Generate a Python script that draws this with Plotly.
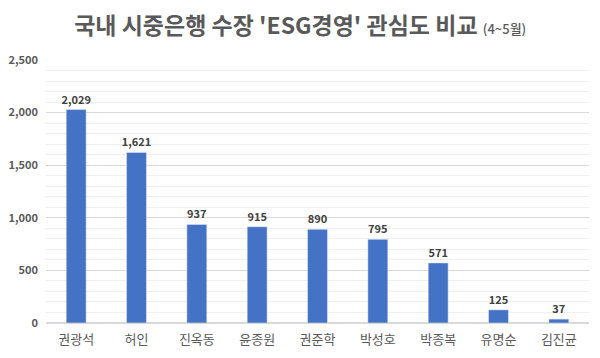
import plotly.graph_objects as go

names = ["권광석", "허인", "진옥동", "윤종원", "권준학", "박성호", "박종복", "유명순", "김진균"]
values = [2029, 1621, 937, 915, 890, 795, 571, 125, 37]
y_ticks = [0, 500, 1000, 1500, 2000, 2500]
y_tick_text = ["0", "500", "1,000", "1,500", "2,000", "2,500"]

FONT = "Noto Sans CJK KR"

fig = go.Figure(go.Bar(
    x=names, y=values, width=0.33,
    marker=dict(color="#4472C4"),
    text=[f"{v:,}" for v in values], textposition="outside",
    textfont=dict(family=FONT, size=11, color="#404040", weight="bold"),
    constraintext="none",
    cliponaxis=False,
))

fig.update_layout(
    width=600, height=358,
    margin=dict(l=38, r=19, t=52, b=43, autoexpand=False),
    paper_bgcolor="white", plot_bgcolor="white",
    showlegend=False,
    font=dict(family=FONT, color="#595959"),
    title=dict(
        text="국내 시중은행 수장 'ESG경영' 관심도 비교 <span style='font-size:13px;font-weight:500'>(4~5월)</span>",
        x=0.487, xanchor="center", y=0.95, yanchor="middle",
        font=dict(family=FONT, size=23, color="#595959", weight="bold"),
    ),
    xaxis=dict(
        showline=False, ticks="", automargin=False, ticklabelstandoff=7,
        tickfont=dict(family=FONT, size=13, color="#595959"),
    ),
    yaxis=dict(
        range=[0, 2500], tickvals=y_ticks, ticktext=y_tick_text,
        automargin=False,
        showgrid=True, gridcolor="#D9D9D9", gridwidth=1,
        zeroline=True, zerolinecolor="#D9D9D9",
        minor=dict(dtick=100, showgrid=True, gridcolor="#F0F0F0"),
        tickfont=dict(family=FONT, size=11, color="#595959", weight="bold"),
        ticks="", ticklabelstandoff=7,
    ),
)

fig.write_html("out.html")
